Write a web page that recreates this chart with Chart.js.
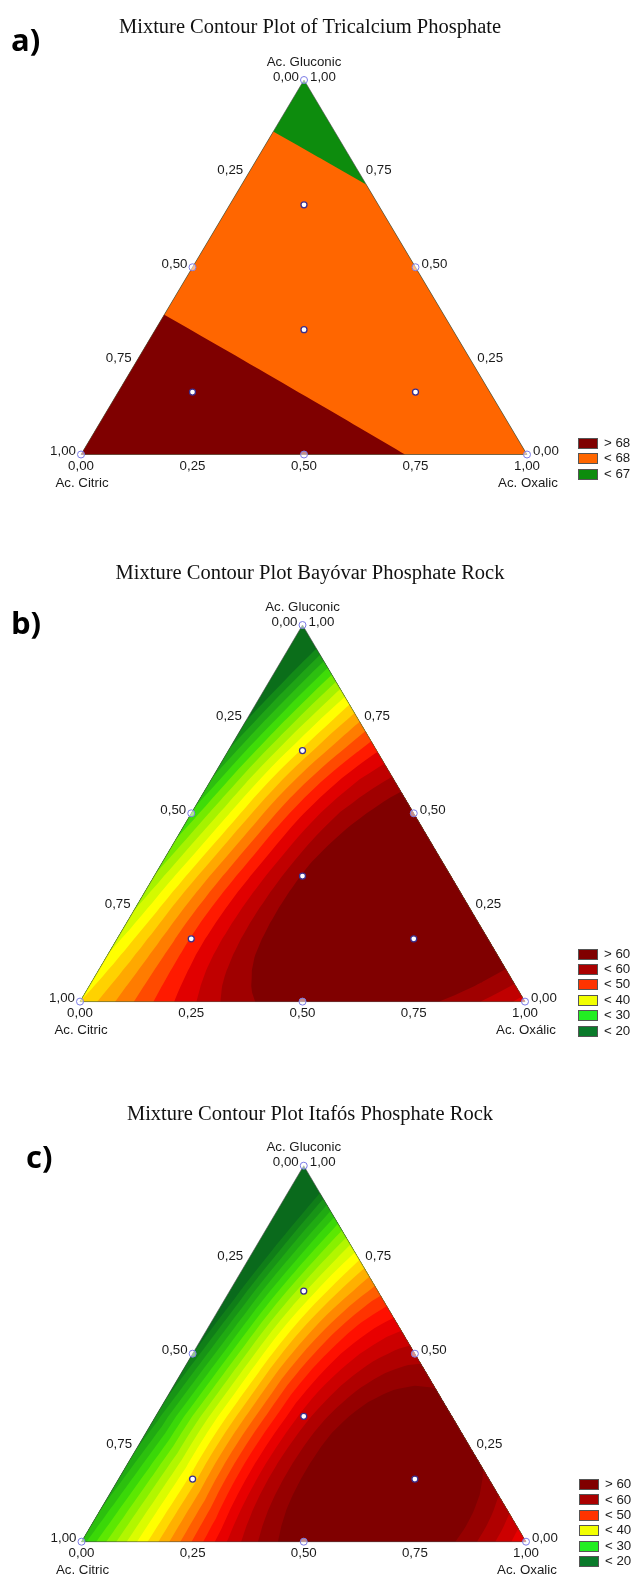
<!DOCTYPE html>
<html>
<head>
<meta charset="utf-8">
<script src="https://cdn.jsdelivr.net/npm/chart.js@4.4.1/dist/chart.umd.min.js"></script>
<style>
html,body{margin:0;padding:0;background:#fff;}
body{width:635px;height:1582px;position:relative;overflow:hidden;}
canvas{position:absolute;left:0;}
.title{position:absolute;left:0;width:620px;text-align:center;font-family:"Liberation Serif","Times New Roman",serif;font-size:20.5px;line-height:26px;color:#111;white-space:nowrap;}
.letter{position:absolute;font-family:"Open Sans",Lato,sans-serif;font-weight:700;font-size:31px;line-height:34px;color:#000;}
</style>
</head>
<body>
<canvas id="chartA" width="635" height="520" style="top:0px;width:635px;height:520px"></canvas>
<canvas id="chartB" width="635" height="540" style="top:520px;width:635px;height:540px"></canvas>
<canvas id="chartC" width="635" height="522" style="top:1060px;width:635px;height:522px"></canvas>
<div class="title" style="top:13px">Mixture Contour Plot of Tricalcium Phosphate</div>
<div class="title" style="top:559px">Mixture Contour Plot Bayóvar Phosphate Rock</div>
<div class="title" style="top:1100px">Mixture Contour Plot Itafós Phosphate Rock</div>
<div class="letter" style="left:11px;top:22px">a)</div>
<div class="letter" style="left:11px;top:605px">b)</div>
<div class="letter" style="left:26px;top:1139px">c)</div>
<script>
// ---------- data ----------
const tickValues = [0, 0.25, 0.5, 0.75, 1];
const tickLabels = ['0,00', '0,25', '0,50', '0,75', '1,00'];

const namesA = ['Ac. Citric', 'Ac. Gluconic', 'Ac. Oxalic'];
const namesB = ['Ac. Citric', 'Ac. Gluconic', 'Ac. Oxálic'];
const namesC = ['Ac. Citric', 'Ac. Gluconic', 'Ac. Oxalic'];

// design points (proportions of citric, gluconic, oxalic)
const edgeCitric   = [1, 0, 0, 0.5, 0.5, 0];
const edgeGluconic = [0, 0, 1, 0,   0.5, 0.5];
const edgeOxalic   = [0, 1, 0, 0.5, 0,   0.5];
const innerCitric   = [1/3, 2/3, 1/6, 1/6];
const innerGluconic = [1/3, 1/6, 1/6, 2/3];
const innerOxalic   = [1/3, 1/6, 2/3, 1/6];

// response values read on a triangular lattice: row = gluconic step (bottom to apex), entry = oxalic step
const gridA = [
  [68.77, 68.24, 67.71],
  [67.74, 67.22],
  [66.72]
];
const levelsA = [67, 68];
const colorsA = ['#0d8c0d', '#ff6600', '#7f0000'];
const legendLabelsA = ['> 68', '< 68', '< 67'];
const legendColorsA = ['#7f0000', '#ff6600', '#0d8c0d'];

const gridB = [
  [40.0, 50.1, 58.3, 62.0, 62.3, 59.4, 54.0],
  [36.7, 50.3, 60.4, 65.3, 66.4, 63.9],
  [32.7, 48.6, 60.3, 65.6, 66.9],
  [28.0, 45.4, 57.6, 63.0],
  [22.7, 40.5, 52.2],
  [16.7, 34.6],
  [10.0]
];
const levelsB = [20, 22.5, 25, 27.5, 30, 32.5, 35, 37.5, 40, 42.5, 45, 47.5, 50, 52.5, 55, 57.5, 60];
const colorsB = ['#0b6e1a', '#138a17', '#1fa415', '#2dbf10', '#3fdc08', '#74ea00', '#a6f200', '#d4fa00',
                 '#ffff00', '#ffd200', '#ffa800', '#ff7c00', '#ff4a00', '#ff1a00', '#e10000', '#c00000',
                 '#a00000', '#800000'];
const legendLabelsBC = ['> 60', '< 60', '< 50', '< 40', '< 30', '< 20'];
const legendColorsBC = ['#800000', '#aa0000', '#ff3300', '#f2ff00', '#22ee22', '#0a7a2a'];

const gridC = [
  [27.0, 41.5, 54.5, 62.0, 63.7, 60.3, 52.0],
  [25.0, 41.0, 55.8, 63.4, 64.4, 59.4],
  [22.7, 40.6, 55.0, 61.8, 61.1],
  [20.0, 38.8, 52.0, 57.0],
  [17.0, 35.6, 47.1],
  [13.7, 31.4],
  [10.0]
];
const levelsC = [20, 22, 24, 26, 28, 30, 32, 34, 36, 38, 40, 42, 44, 46, 48, 50, 52, 54, 56, 58, 60];
const colorsC = ['#0a6a1c', '#107e18', '#189416', '#20aa12', '#2cc00e', '#3ad808', '#5ce802', '#88f000',
                 '#b2f600', '#dafc00', '#ffff00', '#ffd800', '#ffb000', '#ff8800', '#ff5e00', '#ff3300',
                 '#ff1000', '#e80000', '#cc0000', '#b00000', '#960000', '#800000'];

// ---------- helpers ----------
function toXY(c, g, o) { return {x: o + g / 2, y: g}; }
const edgePoints = edgeCitric.map((c, i) => toXY(c, edgeGluconic[i], edgeOxalic[i]));
const innerPoints = innerCitric.map((c, i) => toXY(c, innerGluconic[i], innerOxalic[i]));

function clipPoly(poly, t) {
  const out = [];
  for (let k = 0; k < poly.length; k++) {
    const a = poly[k], b = poly[(k + 1) % poly.length];
    const ina = a.f >= t, inb = b.f >= t;
    if (ina) out.push(a);
    if (ina !== inb) {
      const s = (t - a.f) / (b.f - a.f);
      out.push({x: a.x + s * (b.x - a.x), y: a.y + s * (b.y - a.y), f: t});
    }
  }
  return out;
}

function makeTernary(cfg) {
  return {
    id: 'ternary' + cfg.key,
    beforeDatasetsDraw(chart) {
      const ctx = chart.ctx, xs = chart.scales.x, ys = chart.scales.y;
      const P = (o, g) => ({x: xs.getPixelForValue(o + g / 2), y: ys.getPixelForValue(g)});
      const grid = cfg.grid, n = grid.length - 1, M = n / 2;
      const V = (a, b) => grid[b][a];
      const val = (o, g) => {
        let u = o * M, v = g * M;
        if (u + v > M) { const s = M / (u + v); u *= s; v *= s; }
        let i = Math.floor(u), j = Math.floor(v);
        if (i > M - 1) i = M - 1;
        if (j > M - 1) j = M - 1;
        while (i + j > M - 1) { if (i > 0) i--; else j--; }
        const fu = u - i, fv = v - j;
        let A, B, C, la, lb, lc;
        if (fu + fv <= 1 || i + j >= M - 1) { A = [i, j]; B = [i + 1, j]; C = [i, j + 1]; la = 1 - fu - fv; lb = fu; lc = fv; }
        else { A = [i + 1, j + 1]; B = [i, j + 1]; C = [i + 1, j]; la = fu + fv - 1; lb = 1 - fu; lc = 1 - fv; }
        const cv = p => V(2 * p[0], 2 * p[1]);
        const mv = (p, q) => V(p[0] + q[0], p[1] + q[1]);
        return la * (2 * la - 1) * cv(A) + lb * (2 * lb - 1) * cv(B) + lc * (2 * lc - 1) * cv(C)
          + 4 * (la * lb * mv(A, B) + lb * lc * mv(B, C) + la * lc * mv(A, C));
      };
      const N = M * cfg.sub;
      const pts = [];
      for (let q = 0; q <= N; q++) {
        pts[q] = [];
        for (let p = 0; p <= N - q; p++) {
          const o = p / N, g = q / N, pp = P(o, g);
          pts[q][p] = {x: pp.x, y: pp.y, f: val(o, g)};
        }
      }
      const tris = [];
      for (let q = 0; q < N; q++) {
        for (let p = 0; p + q <= N - 1; p++) {
          tris.push([pts[q][p], pts[q][p + 1], pts[q + 1][p]]);
          if (p + q <= N - 2) tris.push([pts[q][p + 1], pts[q + 1][p + 1], pts[q + 1][p]]);
        }
      }
      const L = P(0, 0), R = P(1, 0), T = P(0, 1);
      ctx.save();
      ctx.beginPath(); ctx.moveTo(L.x, L.y); ctx.lineTo(R.x, R.y); ctx.lineTo(T.x, T.y); ctx.closePath();
      ctx.fillStyle = cfg.colors[0]; ctx.fill();
      cfg.levels.forEach((t, k) => {
        ctx.beginPath();
        let any = false;
        for (const tr of tris) {
          const pl = clipPoly(tr, t);
          if (pl.length >= 3) {
            any = true;
            ctx.moveTo(pl[0].x, pl[0].y);
            for (let r = 1; r < pl.length; r++) ctx.lineTo(pl[r].x, pl[r].y);
            ctx.closePath();
          }
        }
        if (any) { ctx.fillStyle = cfg.colors[k + 1]; ctx.fill(); }
      });
      ctx.beginPath(); ctx.moveTo(L.x, L.y); ctx.lineTo(R.x, R.y); ctx.lineTo(T.x, T.y); ctx.closePath();
      ctx.strokeStyle = 'rgba(70,70,70,0.75)'; ctx.lineWidth = 0.8; ctx.stroke();
      ctx.restore();
    },
    afterDraw(chart) {
      const ctx = chart.ctx, xs = chart.scales.x, ys = chart.scales.y;
      const P = (o, g) => ({x: xs.getPixelForValue(o + g / 2), y: ys.getPixelForValue(g)});
      ctx.save();
      ctx.font = '13.3px "Liberation Sans", Arial, sans-serif';
      ctx.fillStyle = '#1a1a1a';
      ctx.textBaseline = 'middle';
      tickValues.forEach((t, k) => {
        let p = P(0, 1 - t);
        ctx.textAlign = 'right'; ctx.fillText(tickLabels[k], p.x - 5, p.y - 3);
        p = P(1 - t, t);
        ctx.textAlign = 'left'; ctx.fillText(tickLabels[k], p.x + 6, p.y - 3);
        p = P(t, 0);
        ctx.textAlign = 'center'; ctx.fillText(tickLabels[k], p.x, p.y + 12);
      });
      const ap = P(0, 1), lp = P(0, 0), rp = P(1, 0);
      ctx.textAlign = 'center';
      ctx.fillText(cfg.names[1], ap.x, ap.y - 18);
      ctx.fillText(cfg.names[0], lp.x + 1, lp.y + 29);
      ctx.fillText(cfg.names[2], rp.x + 1, rp.y + 29);
      // legend
      const lx = cfg.legendX;
      cfg.legendLabels.forEach((lab, k) => {
        const cy = lp.y + cfg.legendDy + k * 15.4;
        const top = Math.round(cy - 5.5);
        ctx.fillStyle = cfg.legendColors[k];
        ctx.fillRect(lx, top, 20, 11);
        ctx.strokeStyle = '#555'; ctx.lineWidth = 1;
        ctx.strokeRect(lx + 0.5, top + 0.5, 19, 10);
        ctx.fillStyle = '#1a1a1a';
        ctx.textAlign = 'left';
        ctx.fillText(lab, lx + 26, cy);
      });
      ctx.restore();
    }
  };
}

function buildChart(id, cfg, pad) {
  return new Chart(document.getElementById(id), {
    type: 'scatter',
    data: {
      datasets: [
        {data: edgePoints, pointRadius: 3.5, pointBackgroundColor: 'rgba(255,255,255,0.55)',
         pointBorderColor: '#7b7be6', pointBorderWidth: 1, clip: false},
        {data: innerPoints, pointRadius: 3, pointBackgroundColor: '#ffffff',
         pointBorderColor: '#3a2e8c', pointBorderWidth: 1.3, clip: false}
      ]
    },
    options: {
      responsive: false, animation: false, devicePixelRatio: 1, events: [],
      layout: {padding: pad},
      scales: {
        x: {type: 'linear', min: 0, max: 1, display: false},
        y: {type: 'linear', min: 0, max: 1, display: false}
      },
      plugins: {legend: {display: false}, tooltip: {enabled: false}, title: {display: false}}
    },
    plugins: [makeTernary(cfg)]
  });
}

buildChart('chartA', {key: 'A', grid: gridA, sub: 14, levels: levelsA, colors: colorsA, names: namesA,
  legendLabels: legendLabelsA, legendColors: legendColorsA, legendX: 578, legendDy: -11.3},
  {left: 81, right: 108, top: 80, bottom: 65.5});
buildChart('chartB', {key: 'B', grid: gridB, sub: 8, levels: levelsB, colors: colorsB, names: namesB,
  legendLabels: legendLabelsBC, legendColors: legendColorsBC, legendX: 578, legendDy: -47.6},
  {left: 80, right: 110, top: 105, bottom: 58.4});
buildChart('chartC', {key: 'C', grid: gridC, sub: 8, levels: levelsC, colors: colorsC, names: namesC,
  legendLabels: legendLabelsBC, legendColors: legendColorsBC, legendX: 579, legendDy: -57.2},
  {left: 81.5, right: 109, top: 105.7, bottom: 40.3});
</script>
</body>
</html>
